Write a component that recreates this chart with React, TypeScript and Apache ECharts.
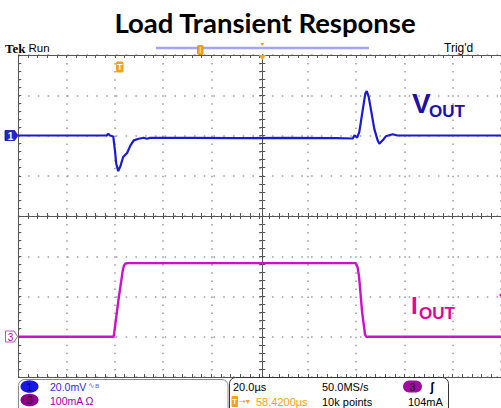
import React, { useEffect, useRef } from "react";
import * as echarts from "echarts";

// ---- Data (read from the scope shot) ----
// time in µs relative to trigger; 20 µs/div; screen from -41.58 to 158.42 µs
const voutTime = [-41.58, -20, -10, -5.0, -4.3, -3.6, -2.23, -1.54, -1.0, -0.18, 0.8, 1.87, 3.5, 4.9, 6.25, 8.3, 10.35, 11.7, 13, 30, 50, 70, 90, 97.0, 97.7, 98.8, 99.7, 101.1, 102.2, 102.8, 103.6, 104.6, 105.9, 107.3, 108.0, 109.4, 110.7, 113.5, 115.5, 130, 158.42];
const voutMv = [0, 0, 0, 0, 0.8, 0, -0.5, -7.4, -14, -17.7, -15, -10.7, -8.7, -4.9, -2.4, -1.6, -1.1, -1.6, -1.2, -1.2, -1.3, -1.2, -1.3, -1.5, 0.1, -1.1, 1.7, 12.5, 20.8, 22.1, 19.2, 12.5, 3.4, -2.4, -4.1, -2.4, -0.4, 0.6, 0, 0, 0];
const ioutTime = [-41.58, -2.23, -1.99, -1.29, 0, 1.23, 1.74, 2.23, 2.85, 4, 98.3, 99.0, 99.6, 100.9, 102.1, 102.6, 158.42];
const ioutMa = [0, 0, 3, 35, 95, 145, 166, 177, 182, 183, 183, 172, 150, 60, 5, 0, 0];

const timeRange = [-41.58, 158.42]; // µs
const timeDiv = 20;
const voutRange = [-120, 40]; // mV, 20 mV/div
const ioutRange = [-100, 700]; // mA, 100 mA/div
const divRange = [-4, 4];

const titleText = "Load Transient Response";
const ch1Scale = "20.0mV";
const ch3Scale = "100mA Ω";
const timeScale = "20.0µs";
const sampleRate = "50.0MS/s";
const recordLen = "10k points";
const trigLevel = "104mA";
const trigPos = "58.4200µs";

// ---- styling ----
const GRID = { left: 18.3, top: 55, width: 488, height: 322 };
const dotGray = "#9a9a9a";
const frame = "#555555";
const orange = "#f5a020";

const txt = (text: string, x: number, y: number, fill: string, size: number, opts: any = {}) => ({
  type: "text",
  x,
  y,
  z: 20,
  silent: true,
  style: {
    text,
    fill,
    fontSize: size,
    fontFamily: opts.family || "Liberation Sans",
    fontWeight: opts.weight || "normal",
    align: opts.align || "left",
    verticalAlign: "middle",
    textAlign: opts.align || "left",
    textVerticalAlign: "middle",
  },
});

const xBase = (extra: any) => ({
  type: "value",
  min: timeRange[0],
  max: timeRange[1],
  interval: timeDiv,
  axisLabel: { show: false },
  splitLine: { show: false },
  axisLine: { show: true, onZero: false, lineStyle: { color: frame, width: 1 } },
  axisTick: { show: true, inside: true, length: 3, lineStyle: { color: frame } },
  minorTick: { show: true, splitNumber: 5, length: 3, lineStyle: { color: frame } },
  ...extra,
});

const yBase = (extra: any) => ({
  type: "value",
  min: divRange[0],
  max: divRange[1],
  interval: 1,
  axisLabel: { show: false },
  splitLine: { show: false },
  axisLine: { show: true, onZero: false, lineStyle: { color: frame, width: 1 } },
  axisTick: { show: true, inside: true, length: 3, lineStyle: { color: frame } },
  minorTick: { show: true, splitNumber: 5, length: 3, lineStyle: { color: frame } },
  ...extra,
});

const option: any = {
  animation: false,
  backgroundColor: "#ffffff",
  grid: { ...GRID, containLabel: false },
  xAxis: [
    xBase({
      position: "bottom",
      splitLine: { show: true, lineStyle: { color: dotGray, width: 1.5, type: [1.5, 6.55] } },
    }),
    xBase({ position: "top" }),
    xBase({ position: "bottom", offset: -161 }),
    xBase({ position: "bottom", offset: -161, axisTick: { show: true, inside: false, length: 3, lineStyle: { color: frame } } }),
  ],
  yAxis: [
    yBase({
      position: "left",
      splitLine: { show: true, lineStyle: { color: dotGray, width: 1.5, type: [1.5, 8.26] } },
    }),
    yBase({ position: "left", offset: -244 }),
    yBase({ position: "left", offset: -244, axisTick: { show: true, inside: false, length: 3, lineStyle: { color: frame } } }),
    { type: "value", show: false, min: voutRange[0], max: voutRange[1] },
    { type: "value", show: false, min: ioutRange[0], max: ioutRange[1] },
  ],
  series: [
    {
      name: "VOUT",
      type: "line",
      xAxisIndex: 0,
      yAxisIndex: 3,
      data: voutTime.map((t, i) => [t, voutMv[i]]),
      showSymbol: false,
      symbol: "none",
      lineStyle: { color: "#1a1ad2", width: 2.2 },
      z: 5,
    },
    {
      name: "IOUT",
      type: "line",
      xAxisIndex: 0,
      yAxisIndex: 4,
      data: ioutTime.map((t, i) => [t, ioutMa[i]]),
      showSymbol: false,
      symbol: "none",
      lineStyle: { color: "#cc11cc", width: 2.4 },
      z: 5,
    },
  ],
  graphic: [
    // title
    txt(titleText, 265, 22, "#000000", 27.5, { align: "center", weight: "bold", family: "Lato" }),
    // header
    txt("Tek", 5, 48, "#000000", 13, { weight: "bold", family: "Liberation Serif" }),
    txt("Run", 28.5, 47.5, "#000000", 11.5),
    txt("Trig'd", 444, 48, "#000000", 12),
    { type: "line", z: 15, silent: true, shape: { x1: 156, y1: 48, x2: 369, y2: 48 }, style: { stroke: "#a4a4f2", lineWidth: 2.5 } },
    { type: "rect", z: 16, silent: true, shape: { x: 197.5, y: 45.5, width: 5.5, height: 9, r: 1 }, style: { fill: orange, stroke: "#e08a00", lineWidth: 0.8 } },
    { type: "line", z: 17, silent: true, shape: { x1: 200.2, y1: 47, x2: 200.2, y2: 53 }, style: { stroke: "#ffe0a0", lineWidth: 1 } },
    { type: "polygon", z: 16, silent: true, shape: { points: [[260.3, 43], [264.3, 43], [262.3, 46]] }, style: { fill: orange } },
    { type: "polygon", z: 16, silent: true, shape: { points: [[258.5, 55], [266.1, 55], [262.3, 60]] }, style: { fill: orange } },
    // trigger position marker
    { type: "rect", z: 16, silent: true, shape: { x: 116, y: 61.5, width: 7.5, height: 11, r: 1.5 }, style: { fill: orange } },
    txt("T", 119.8, 67, "#ffffff", 9, { align: "center", weight: "bold" }),
    // channel ground markers
    { type: "polygon", z: 16, silent: true, shape: { points: [[5, 130.5], [14.5, 130.5], [18, 135.5], [14.5, 140.5], [5, 140.5]] }, style: { fill: "#2222d8", stroke: "#1010a0", lineWidth: 0.8 } },
    txt("1", 10.5, 136, "#ffffff", 10, { align: "center", weight: "bold" }),
    { type: "polygon", z: 16, silent: true, shape: { points: [[5.5, 331], [14, 331], [17.5, 336.5], [14, 342], [5.5, 342]] }, style: { fill: "#ffffff", stroke: "#c050c0", lineWidth: 1 } },
    txt("3", 10.5, 337, "#b000b0", 10, { align: "center" }),
    // trigger level marker on right
    { type: "polygon", z: 16, silent: true, shape: { points: [[499, 295], [503, 291.5], [503, 298.5]] }, style: { fill: "#d010b0" } },
    // trace labels
    txt("V", 412, 103.5, "#2010a8", 28, { weight: "bold" }),
    txt("OUT", 429, 111.5, "#2010a8", 17, { weight: "bold" }),
    txt("I", 411, 305.5, "#e0069c", 24, { weight: "bold" }),
    txt("OUT", 419, 313.5, "#e0069c", 17, { weight: "bold" }),
    // info boxes
    { type: "rect", z: 14, silent: true, shape: { x: 18.5, y: 379.5, width: 209.5, height: 40, r: 6 }, style: { fill: "#ffffff", stroke: "#8a8a8a", lineWidth: 1 } },
    { type: "rect", z: 14, silent: true, shape: { x: 229.5, y: 377.5, width: 219, height: 40, r: 6 }, style: { fill: "#ffffff", stroke: "#333333", lineWidth: 1 } },
    { type: "ellipse", z: 16, silent: true, shape: { cx: 29.5, cy: 386.5, rx: 9, ry: 6.3 }, style: { fill: "#1717e6" } },
    txt("1", 29.5, 387, "#000050", 10, { align: "center" }),
    { type: "ellipse", z: 16, silent: true, shape: { cx: 29.5, cy: 400, rx: 9, ry: 6.3 }, style: { fill: "#8c008c" } },
    txt("3", 29.5, 400.5, "#200020", 10, { align: "center" }),
    txt(ch1Scale, 50, 386.5, "#2b2be0", 10.5),
    txt("∿ʙ", 88, 385.5, "#6a6ae8", 8),
    txt(ch3Scale, 50, 400.5, "#a000a0", 10.5),
    txt(timeScale, 233, 386.5, "#000000", 11),
    txt(sampleRate, 322, 386.5, "#000000", 11),
    { type: "rect", z: 16, silent: true, shape: { x: 403, y: 380.5, width: 19, height: 12, r: 6 }, style: { fill: "#9a109a" } },
    txt("3", 412.5, 387, "#1a001a", 10, { align: "center" }),
    txt("ʃ", 430, 386.5, "#000000", 12, { weight: "bold" }),
    { type: "rect", z: 16, silent: true, shape: { x: 231.5, y: 396, width: 6.5, height: 11, r: 1 }, style: { fill: orange } },
    txt("T", 234.8, 401.5, "#ffffff", 8, { align: "center", weight: "bold" }),
    txt("→▾", 239, 401.5, orange, 8, { family: "DejaVu Sans" }),
    txt(trigPos, 256, 402, orange, 11),
    txt(recordLen, 322, 402, "#000000", 11),
    txt(trigLevel, 408, 402, "#000000", 11),
  ],
};

export default function App() {
  const ref = useRef<HTMLDivElement>(null);
  useEffect(() => {
    const chart = echarts.init(ref.current as HTMLDivElement, null, { renderer: "svg" });
    chart.setOption(option);
    return () => chart.dispose();
  }, []);
  return (
    <div
      ref={ref}
      style={{ position: "fixed", left: 0, top: 0, width: 501, height: 408, background: "#ffffff" }}
    />
  );
}
